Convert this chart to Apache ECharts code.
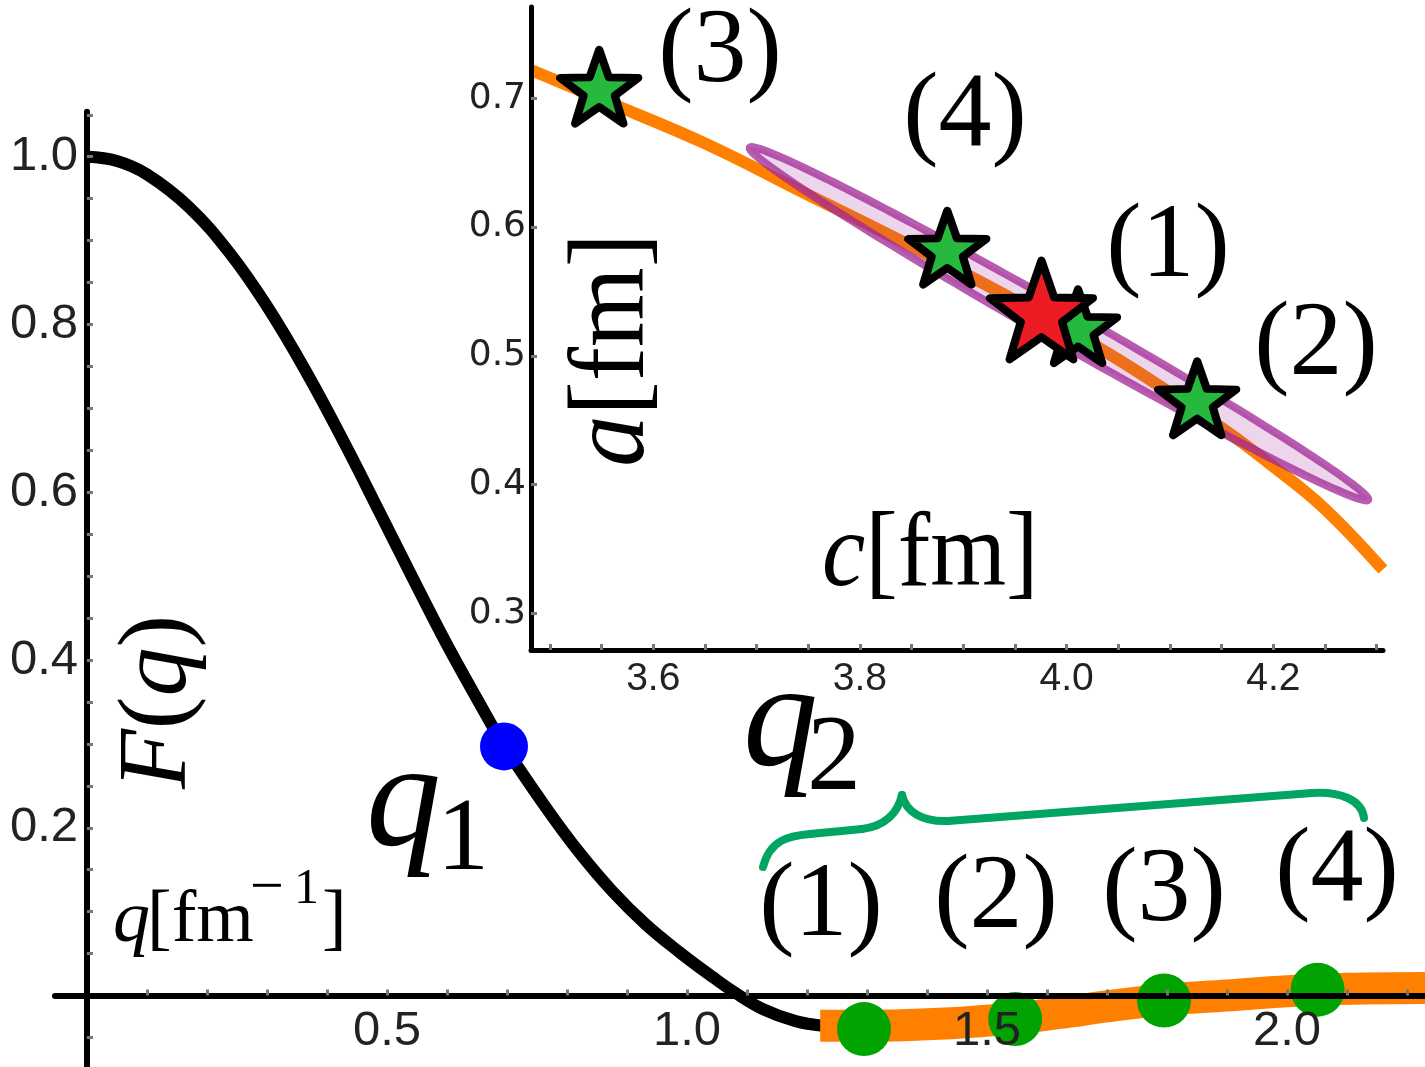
<!DOCTYPE html>
<html><head><meta charset="utf-8">
<script src="https://cdn.jsdelivr.net/npm/echarts@6/dist/echarts.min.js"></script>
<style>html,body{margin:0;padding:0;background:#fff}#c{width:1425px;height:1067px}</style>
</head><body><div id="c"></div>
<script>
// ---- main panel: form factor F(q) ----
const formFactorQ = [0, 0.05, 0.1, 0.17, 0.237, 0.298, 0.365, 0.431, 0.487, 0.542, 0.598, 0.653, 0.695, 0.765, 0.82, 0.876, 0.931, 0.987, 1.042, 1.081, 1.126, 1.181, 1.226];
const formFactorF = [1.0, 0.995, 0.979, 0.940, 0.886, 0.824, 0.744, 0.656, 0.577, 0.499, 0.421, 0.350, 0.298, 0.224, 0.171, 0.124, 0.085, 0.052, 0.0225, 0.003, -0.016, -0.0305, -0.036];
const fitBandQ = [1.222, 1.3, 1.44, 1.548, 1.63, 1.7, 1.795, 1.9, 2.0, 2.1, 2.23];
const fitBandF = [-0.036, -0.036, -0.033, -0.027, -0.020, -0.013, -0.005, 0.0, 0.005, 0.008, 0.009];
const q1Q = [0.695];
const q1F = [0.297];
const q2Q = [1.295, 1.547, 1.795, 2.051];
const q2F = [-0.040, -0.028, -0.006, 0.007];
const mainXTicks = [0.1,0.2,0.3,0.4,0.5,0.6,0.7,0.8,0.9,1.0,1.1,1.2,1.3,1.4,1.5,1.6,1.7,1.8,1.9,2.0,2.1,2.2];
const mainXLabels = [0.5, 1.0, 1.5, 2.0];
const mainYTicks = [-0.05,0.05,0.1,0.15,0.2,0.25,0.3,0.35,0.4,0.45,0.5,0.55,0.6,0.65,0.7,0.75,0.8,0.85,0.9,0.95,1.0,1.05];
const mainYLabels = [0.2, 0.4, 0.6, 0.8, 1.0];

// ---- inset: (c, a) plane ----
const insetC = [3.4817, 3.55, 3.65, 3.75, 3.85, 3.95, 4.05, 4.15, 4.2, 4.25, 4.306];
const insetA = [0.722, 0.699, 0.665, 0.625, 0.585, 0.543, 0.497, 0.444, 0.414, 0.381, 0.334];
const starC = [3.5477, 4.1263, 3.8845, 4.011];
const starA = [0.709, 0.467, 0.584, 0.523];
const bestC = [3.9756];
const bestA = [0.5356];
const ellipseCenter = [3.9926, 0.5249];
const ellipseTip = [4.2917, 0.3882];
const ellipseCoVertex = [4.0007, 0.5364];
const insetXTicks = [3.5,3.55,3.6,3.65,3.7,3.75,3.8,3.85,3.9,3.95,4.0,4.05,4.1,4.15,4.2,4.25,4.3];
const insetXLabels = [3.6, 3.8, 4.0, 4.2];
const insetYTicks = [0.3, 0.4, 0.5, 0.6, 0.7];

const zip = (a, b) => a.map((v, i) => [v, b[i]]);

function starPath(inner) {
  let d = '';
  for (let k = 0; k < 10; k++) {
    const r = k % 2 === 0 ? 1 : inner;
    const ang = -Math.PI / 2 + k * Math.PI / 5;
    d += (k === 0 ? 'M' : 'L') + (r * Math.cos(ang)).toFixed(4) + ' ' + (r * Math.sin(ang)).toFixed(4) + ' ';
  }
  return 'path://' + d + 'Z';
}
const STAR = starPath(0.4);
const SERIF = 'Liberation Serif';

function txt(x, y, text, size, italic, extra) {
  return Object.assign({
    type: 'text', x: x, y: y, z: 100,
    style: Object.assign({
      text: text, fontFamily: SERIF, fontSize: size, fontStyle: italic ? 'italic' : 'normal',
      fill: '#000', align: 'left', verticalAlign: 'middle'
    }, (extra && extra.style) || {})
  }, (extra && extra.el) || {});
}
function rich(x, y, text, size, el, align) {
  return Object.assign({
    type: 'text', x: x, y: y, z: 100,
    style: {
      text: text, align: align || 'left', verticalAlign: 'middle',
      rich: {
        i: { fontFamily: SERIF, fontSize: size, fontStyle: 'italic', fill: '#000' },
        r: { fontFamily: SERIF, fontSize: size, fontStyle: 'normal', fill: '#000' }
      }
    }
  }, el || {});
}
const BRACE = { stroke: '#00a562', lineWidth: 8, lineCap: 'round', fill: null };
function bez(x1, y1, c1x, c1y, c2x, c2y, x2, y2) {
  return { type: 'bezierCurve', z: 90, shape: { x1: x1, y1: y1, cpx1: c1x, cpy1: c1y, cpx2: c2x, cpy2: c2y, x2: x2, y2: y2 }, style: BRACE };
}
function seg(x1, y1, x2, y2) {
  return { type: 'line', z: 90, shape: { x1: x1, y1: y1, x2: x2, y2: y2 }, style: BRACE };
}

const tickStyle = { color: '#777', width: 3 };
const noSplit = { show: false };
const chart = echarts.init(document.getElementById('c'), null, { renderer: 'canvas' });
chart.setOption({
  animation: false,
  backgroundColor: '#fff',
  grid: [
    // main plot area (axes cross at the origin)
    { left: 55, top: 111.7, width: 1370, height: 955.3, outerBoundsMode: 'none' },
    // inset
    { left: 531, top: 7, width: 852, height: 643, outerBoundsMode: 'none' },
    // positive quadrant of main plot, same scale: carries the tick labels
    { left: 87, top: 111.7, width: 1338, height: 883.8, outerBoundsMode: 'none' }
  ],
  xAxis: [
    { type: 'value', gridIndex: 0, min: -0.0533, max: 2.23, z: 10,
      axisLine: { show: true, onZero: true, lineStyle: { color: '#000', width: 6 } },
      axisTick: { show: true, inside: true, length: 6, customValues: mainXTicks, lineStyle: tickStyle },
      axisLabel: { show: false }, splitLine: noSplit },
    { type: 'value', gridIndex: 1, min: 3.4817, max: 4.3061, z: 10,
      axisLine: { show: true, onZero: false, lineStyle: { color: '#000', width: 5 } },
      axisTick: { show: true, inside: true, length: 6, customValues: insetXTicks, lineStyle: tickStyle },
      axisLabel: { customValues: insetXLabels, formatter: v => Number(v).toFixed(1), fontFamily: 'Liberation Sans', fontSize: 39, color: '#222', margin: 10 },
      splitLine: noSplit },
    { type: 'value', gridIndex: 2, min: 0, max: 2.23, z: 10,
      axisLine: { show: false, onZero: false }, axisTick: { show: false },
      axisLabel: { customValues: mainXLabels, formatter: v => Number(v).toFixed(1), fontFamily: 'Liberation Sans', fontSize: 49, color: '#222', margin: 11 },
      splitLine: noSplit }
  ],
  yAxis: [
    { type: 'value', gridIndex: 0, min: -0.0852, max: 1.0537, z: 10,
      axisLine: { show: true, onZero: true, lineStyle: { color: '#000', width: 6 } },
      axisTick: { show: true, inside: true, length: 6, customValues: mainYTicks, lineStyle: tickStyle },
      axisLabel: { show: false }, splitLine: noSplit },
    { type: 'value', gridIndex: 1, min: 0.2715, max: 0.7709, z: 10,
      axisLine: { show: true, onZero: false, lineStyle: { color: '#000', width: 5 } },
      axisTick: { show: true, inside: true, length: 6, customValues: insetYTicks, lineStyle: tickStyle },
      axisLabel: { customValues: insetYTicks, formatter: v => Number(v).toFixed(1), fontFamily: 'DejaVu Sans', fontSize: 36, color: '#222', margin: 5 },
      splitLine: noSplit },
    { type: 'value', gridIndex: 2, min: 0, max: 1.0537, z: 10,
      axisLine: { show: false, onZero: false }, axisTick: { show: false },
      axisLabel: { customValues: mainYLabels, formatter: v => Number(v).toFixed(1), fontFamily: 'Liberation Sans', fontSize: 49, color: '#222', margin: 9 },
      splitLine: noSplit }
  ],
  series: [
    { type: 'line', xAxisIndex: 0, yAxisIndex: 0, data: zip(formFactorQ, formFactorF), smooth: 0.4,
      showSymbol: false, symbol: 'none', z: 3, lineStyle: { color: '#000', width: 12 } },
    { type: 'line', xAxisIndex: 0, yAxisIndex: 0, data: zip(fitBandQ, fitBandF), smooth: 0.4,
      showSymbol: false, symbol: 'none', z: 4, lineStyle: { color: '#ff8000', width: 32 } },
    { type: 'scatter', xAxisIndex: 0, yAxisIndex: 0, data: zip(q1Q, q1F), symbolSize: 48, z: 5,
      itemStyle: { color: '#0000ff', opacity: 1 } },
    { type: 'scatter', xAxisIndex: 0, yAxisIndex: 0, data: zip(q2Q, q2F), symbolSize: 54, z: 5,
      itemStyle: { color: '#00a300', opacity: 1 } },
    { type: 'line', xAxisIndex: 1, yAxisIndex: 1, data: zip(insetC, insetA), smooth: 0.4,
      showSymbol: false, symbol: 'none', z: 3, lineStyle: { color: '#ff8000', width: 12 } },
    { type: 'custom', xAxisIndex: 1, yAxisIndex: 1, z: 4,
      data: [[ellipseCenter[0], ellipseCenter[1], ellipseTip[0], ellipseTip[1], ellipseCoVertex[0], ellipseCoVertex[1]]],
      encode: { x: [0, 2, 4], y: [1, 3, 5] },
      renderItem: function (params, api) {
        const c0 = api.coord([api.value(0), api.value(1)]);
        const t = api.coord([api.value(2), api.value(3)]);
        const v = api.coord([api.value(4), api.value(5)]);
        const ux = t[0] - c0[0], uy = t[1] - c0[1], vx = v[0] - c0[0], vy = v[1] - c0[1];
        const pts = [];
        for (let k = 0; k < 160; k++) {
          const th = 2 * Math.PI * k / 160;
          pts.push([c0[0] + ux * Math.cos(th) + vx * Math.sin(th), c0[1] + uy * Math.cos(th) + vy * Math.sin(th)]);
        }
        return { type: 'polygon', shape: { points: pts },
          style: { fill: 'rgba(160,38,150,0.19)', stroke: 'rgba(160,38,150,0.75)', lineWidth: 8 } };
      } },
    { type: 'scatter', xAxisIndex: 1, yAxisIndex: 1, data: zip(starC, starA), symbol: STAR, symbolSize: [78, 74], z: 6,
      itemStyle: { color: '#27b83e', borderColor: '#000', borderWidth: 8, borderJoin: 'round', opacity: 1 } },
    { type: 'scatter', xAxisIndex: 1, yAxisIndex: 1, data: zip(bestC, bestA), symbol: STAR, symbolSize: [103, 99], z: 7,
      itemStyle: { color: '#ed1c24', borderColor: '#000', borderWidth: 8, borderJoin: 'round', opacity: 1 } }
  ],
  graphic: [
    rich(159, 702, '{i|F}{r|(}{i|q}{r|)}', 98, { rotation: Math.PI / 2 }, 'center'),
    txt(113, 922, 'q', 74, true),
    txt(147, 922, '[fm', 74, false),
    txt(250, 889, '\u2212', 60, false),
    txt(294, 890, '1', 50, false),
    txt(322, 922, ']', 74, false),
    txt(366, 806, 'q', 150, true),
    txt(437, 842, '1', 104, false),
    txt(743, 726, 'q', 150, true),
    txt(807, 761, '2', 108, false),
    txt(821, 907, '(1)', 106, false, { style: { align: 'center' } }),
    txt(996, 899, '(2)', 106, false, { style: { align: 'center' } }),
    txt(1164, 892, '(3)', 106, false, { style: { align: 'center' } }),
    txt(1337, 872, '(4)', 106, false, { style: { align: 'center' } }),
    txt(720, 53, '(3)', 106, false, { style: { align: 'center' } }),
    txt(965, 117, '(4)', 106, false, { style: { align: 'center' } }),
    txt(1168, 248, '(1)', 106, false, { style: { align: 'center' } }),
    txt(1316, 346, '(2)', 106, false, { style: { align: 'center' } }),
    rich(822, 557, '{i|c}{r|[fm]}', 106, { scaleX: 0.92 }),
    rich(615, 350, '{i|a}{r|[fm]}', 108, { rotation: Math.PI / 2, scaleX: 0.95 }, 'center'),
    bez(763, 867, 770, 840, 788, 836, 810, 834),
    seg(810, 834, 862, 829),
    bez(862, 829, 886, 826, 898, 812, 902, 795),
    bez(902, 795, 906, 812, 922, 822, 948, 821),
    seg(948, 821, 1312, 793),
    bez(1312, 793, 1340, 791, 1362, 800, 1364, 818)
  ]
});
</script>
</body></html>
